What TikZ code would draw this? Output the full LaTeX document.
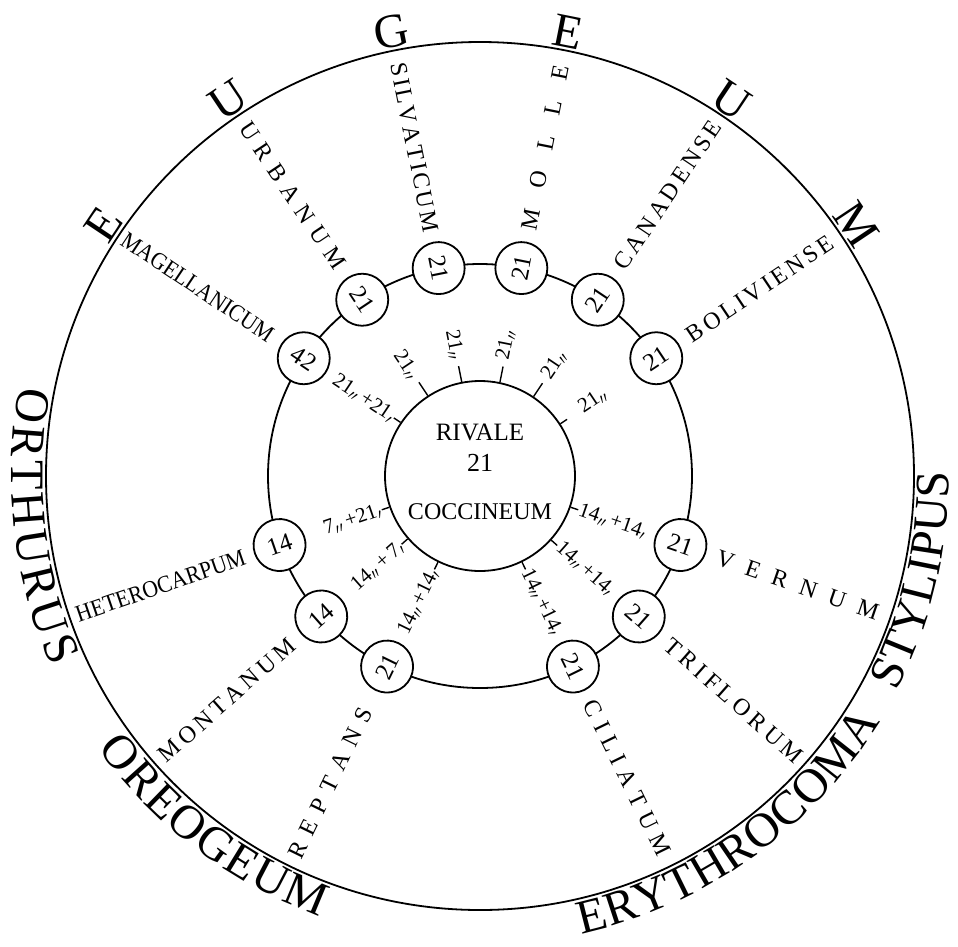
\documentclass[tikz,border=0pt]{standalone}
\usepackage{graphicx}
\usepackage{fontspec}
\setmainfont{Liberation Serif}
\usetikzlibrary{decorations.text}
\def\sprA#1#2{#1\ifx\relax#2\else\hfil\expandafter\sprA\expandafter#2\fi}
\newcommand\spr[2]{\hbox to #1{\sprA#2\relax}}
\newcommand\dII{$_{\prime\prime}$}
\newcommand\dI{$_{\prime}$}
\begin{document}
\begin{tikzpicture}[x=1pt,y=1pt,line width=1.8pt,
  numc/.style={circle,draw,fill=white,minimum size=52pt,inner sep=0pt,font=\fontsize{25}{25}\selectfont},
  spec/.style={inner sep=0pt,font=\fontsize{24}{24}\selectfont},
  tlab/.style={inner sep=0pt,font=\fontsize{21}{21}\selectfont},
  big/.style={inner sep=0pt,font=\fontsize{48}{48}\selectfont},
  cen/.style={inner sep=0pt},
  tick/.style={line width=1.4pt},
  bigarc/.style={decorate,decoration={text along path,text align=fit to path,text={|\fontsize{48}{48}\selectfont|#1}}}
]
\useasboundingbox (0,0) rectangle (958,-946);
\begin{scope}[shift={(480,-476)}]
% circles
\node[circle,draw,minimum size=868pt,inner sep=0pt] (outer) at (0,0) {};
\node[circle,draw,minimum size=424pt,inner sep=0pt] (ring) at (0,0) {};
\node[circle,draw,fill=white,minimum size=190pt,inner sep=0pt] (inner) at (0,0) {};
\node[cen,font=\fontsize{25}{25}\selectfont] (riv) at (0,44) {RIVALE};
\node[cen,font=\fontsize{26}{26}\selectfont] (mid) at (0,13) {21};
\node[cen,font=\fontsize{24}{24}\selectfont] (coc) at (0,-36) {COCCINEUM};
% small circles
\foreach \a/\t/\nm in {78.75/21/cmol,56.25/21/ccan,33.75/21/cbol,-19/21/cver,-41.5/21/ctri,-64/21/ccil}
  \node[numc,rotate=\a] (\nm) at (\a:212) {\t};
\foreach \a/\t/\nm in {101.25/21/csil,123.75/21/curb,146.25/42/cmag,199/14/chet,221.5/14/cmon,244/21/crep}
  \node[numc,rotate=\a-180] (\nm) at (\a:212) {\t};
% ticks
\foreach \a/\l in {101.25/16,78.75/16,123.75/16,56.25/16,146.25/8,33.75/8,199/8,221.5/8,244/8,296/8,318.5/8,341/8}
  \draw[tick] (inner.\a) -- ++(\a:\l);
% tick labels
\foreach \a/\r/\t/\nm in {78.75/118/{21\dII}/t1,56.25/118/{21\dII}/t2,33.75/120/{21\dII}/t3,-19/104/{14\dII\,+14\dI}/t4,-41.5/104/{14\dII\,+14\dI}/t5,-64/104/{14\dII\,+14\dI}/t6}
  \node[tlab,rotate=\a,anchor=west] (\nm) at (\a:\r) {\t};
\foreach \a/\r/\t/\nm in {101.25/118/{21\dII}/t7,123.75/118/{21\dII}/t8,146.25/104/{21\dII\,+21\dI}/t9,199/104/{7\dII\,+21\dI}/t10,221.5/104/{14\dII\,+\,7\dI}/t11,244/104/{14\dII\,+14\dI}/t12}
  \node[tlab,rotate=\a-180,anchor=east] (\nm) at (\a:\r) {\t};
% species labels
\foreach \a/\r/\t/\nm in {78.75/250/{\spr{168pt}{MOLLE}}/s1,56.25/250/{\spr{174pt}{CANADENSE}}/s2,33.75/250/{\spr{172pt}{BOLIVIENSE}}/s3,-19/250/{\spr{170pt}{VERNUM}}/s4,-41.5/250/{\spr{176pt}{TRIFLORUM}}/s5,-64/250/{\spr{170pt}{CILIATUM}}/s6}
  \node[spec,rotate=\a,anchor=west] (\nm) at (\a:\r) {\t};
\foreach \a/\r/\t/\nm in {101.25/248/{\spr{172pt}{SILVATICUM}}/s7,123.75/250/{\spr{172pt}{URBANUM}}/s8,146.25/250/{\resizebox{178pt}{\height}{MAGELLANICUM}}/s9,199/248/{\resizebox{178pt}{\height}{HETEROCARPUM}}/s10,221.5/250/{\spr{174pt}{MONTANUM}}/s11,244/258/{\spr{165pt}{REPTANS}}/s12}
  \node[spec,rotate=\a-180,anchor=east] (\nm) at (\a:\r) {\t};
% big letters on top
\foreach \a/\l/\nm in {146.25/E/b1,123.75/U/b2,101.25/G/b3,78.75/E/b4,56.25/U/b5,33.75/M/b6}
  \node[big,rotate=\a-90,anchor=base] (\nm) at (\a:437) {\l};
% curved names
\path[bigarc=ORTHURUS] (169:469) arc[start angle=169,end angle=204,radius=469];
\path[bigarc=STYLIPUS] (-27.3:469) arc[start angle=-27.3,end angle=0.5,radius=469];
\path[bigarc=OREOGEUM] (215.5:469) arc[start angle=215.5,end angle=250,radius=469];
\path[bigarc=ERYTHROCOMA] (282.5:469) arc[start angle=282.5,end angle=328.5,radius=469];
\end{scope}
\end{tikzpicture}
\end{document}
